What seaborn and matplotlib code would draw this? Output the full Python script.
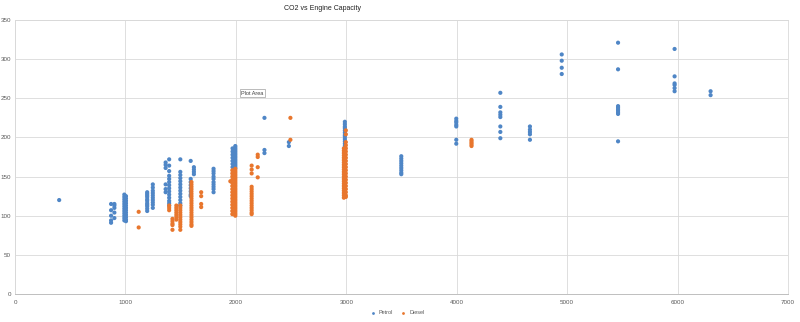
import numpy as np
import pandas as pd
import matplotlib
matplotlib.use("Agg")
import matplotlib.pyplot as plt
import seaborn as sns
from matplotlib.lines import Line2D

# ---------------- data ----------------
title = "CO2 vs Engine Capacity"
series_names = ["Petrol", "Diesel"]
x_ticks = [0, 1000, 2000, 3000, 4000, 5000, 6000, 7000]
y_ticks = [0, 50, 100, 150, 200, 250, 300, 350]

# engine capacity (cc) of each vertical column of points
petrol_cc = [400, 870, 900, 990, 1005, 1197, 1248, 1364, 1396, 1497, 1591, 1620,
             1798, 1970, 1995, 2259, 2480, 2987, 3498, 3996, 4395, 4663,
             4951, 5461, 5973, 6299]
# CO2 (g/km) values found in each petrol column
petrol_co2 = [
    [120],
    [115, 107, 100, 94, 91],
    [115, 113, 110, 104, 97],
    [127, 124, 121, 118, 115, 112, 109, 106, 103, 100, 97, 94],
    [125, 122, 119, 116, 113, 110, 107, 104, 101, 98, 95, 93],
    [130, 128, 126, 124, 121, 119, 116, 114, 112, 109, 106],
    [140, 136, 132, 129, 126, 123, 120, 117, 114, 110],
    [168, 165, 161, 140, 134, 130],
    [172, 164, 157, 151, 147, 143, 139, 135, 131, 127, 123, 119, 116, 113],
    [172, 156, 152, 148, 144, 140, 136, 132, 128, 124, 120, 116, 113],
    [170, 147, 143, 139, 135, 131, 127, 125],
    [162, 159, 156, 153],
    [160, 157, 154, 150, 147, 143, 140, 137, 134, 130],
    [186, 182, 178, 174, 170, 166, 162],
    [189, 187, 185, 183, 181, 179, 177, 175, 173, 171, 169, 167, 165, 163, 161],
    [225, 184, 180],
    [194, 189],
    [220, 217, 214, 212, 209, 206, 203, 201, 198, 195, 192, 189, 186, 183, 180, 177],
    [176, 173, 170, 167, 164, 161, 158, 155, 153],
    [224, 221, 219, 216, 214, 197, 192],
    [257, 239, 232, 229, 226, 214, 207, 199],
    [214, 210, 207, 204, 197],
    [306, 298, 289, 281],
    [321, 287, 240, 238, 236, 234, 232, 230, 195],
    [313, 278, 269, 267, 263, 259],
    [259, 254],
]

diesel_cc = [1120, 1396, 1426, 1461, 1497, 1598, 1686, 1950, 1968, 1995,
             2143, 2198, 2494, 2978, 2996, 4134]
diesel_co2 = [
    [105, 85],
    [113, 110, 107],
    [96, 93, 90, 88, 82],
    [113, 110, 107, 104, 101, 98, 95],
    [113, 110, 107, 104, 101, 98, 95, 92, 89, 86, 82],
    [143, 140, 137, 134, 131, 128, 125, 122, 119, 116, 113, 110, 107, 104,
     101, 98, 95, 92, 89, 87],
    [130, 125, 115, 111],
    [144],
    [158, 154, 150, 146, 142, 138, 134, 130, 126, 122, 118, 114, 110, 106, 102],
    [160, 158, 156, 154, 152, 150, 148, 146, 144, 142, 140, 138, 136, 134,
     132, 130, 128, 126, 124, 122, 120, 118, 116, 114, 112, 110, 108, 106,
     104, 102, 100],
    [164, 159, 154, 137, 134, 131, 128, 125, 122, 119, 116, 113, 110, 107, 104, 102],
    [178, 175, 162, 149],
    [225, 197],
    [186, 183, 180, 177, 174, 171, 168, 165, 162, 159, 156, 153, 150, 147,
     144, 141, 138, 135, 132, 129, 126, 123],
    [209, 204, 194, 190, 186, 182, 178, 174, 170, 166, 162, 158, 154, 150,
     146, 142, 138, 134, 130, 126, 124],
    [197, 195, 193, 191, 189],
]

# ---------------- build table ----------------
rows = []
for cc, vals in zip(petrol_cc, petrol_co2):
    for v in vals:
        rows.append((cc, v, "Petrol"))
for cc, vals in zip(diesel_cc, diesel_co2):
    for v in vals:
        rows.append((cc, v, "Diesel"))
df = pd.DataFrame(rows, columns=["cc", "co2", "fuel"])

colors = {"Petrol": "#4F86C6", "Diesel": "#E8762D"}

# ---------------- figure ----------------
sns.set_style("white")
plt.rcParams["font.family"] = ["Liberation Sans", "DejaVu Sans"]

fig = plt.figure(figsize=(8, 3.22), dpi=100)
ax = fig.add_axes([15 / 800, 1 - 294 / 322, (788 - 15) / 800, (294 - 20) / 322])

sns.scatterplot(data=df, x="cc", y="co2", hue="fuel", hue_order=series_names,
                palette=colors, s=9, linewidth=0, edgecolor="none",
                legend=False, ax=ax)

ax.set_xlim(0, 7000)
ax.set_ylim(0, 350)
ax.set_xticks(x_ticks)
ax.set_yticks(y_ticks)
ax.set_xticklabels([str(t) for t in x_ticks])
ax.set_yticklabels([str(t) for t in y_ticks])
ax.set_xlabel("")
ax.set_ylabel("")
ax.grid(True, color="#D9D9D9", linewidth=0.6)
ax.set_axisbelow(True)
for side in ["left", "right", "top"]:
    ax.spines[side].set_color("#D9D9D9")
    ax.spines[side].set_linewidth(0.6)
ax.spines["bottom"].set_color("#BFBFBF")
ax.spines["bottom"].set_linewidth(0.7)
ax.tick_params(axis="both", length=0, labelsize=4.5, labelcolor="#595959")
ax.tick_params(axis="y", pad=3)
ax.tick_params(axis="x", pad=4)

fig.text(322 / 800, 1 - 8 / 322, title, ha="center", va="center",
         fontsize=5, color="#222222")

handles = [Line2D([0], [0], marker="o", linestyle="", markersize=2,
                  markerfacecolor=colors[n], markeredgewidth=0)
           for n in series_names]
fig.legend(handles, series_names, loc="center",
           bbox_to_anchor=(396 / 800, 1 - 313 / 322), ncol=2, frameon=False,
           fontsize=4, handletextpad=0.1, columnspacing=0.8,
           labelcolor="#595959")

fig.text(241 / 800, 1 - 93 / 322, "Plot Area", ha="left", va="center",
         fontsize=4, color="#404040",
         bbox=dict(boxstyle="square,pad=0.25", facecolor="white",
                   edgecolor="#A0A0A0", linewidth=0.5))

fig.savefig("out.png", dpi=100, facecolor="white")
